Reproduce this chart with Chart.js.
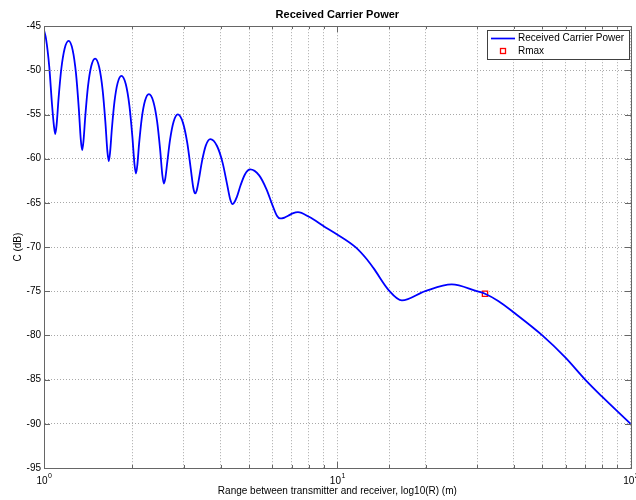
<!DOCTYPE html>
<html>
<head>
<meta charset="utf-8">
<script src="https://cdn.jsdelivr.net/npm/chart.js@4.4.0/dist/chart.umd.min.js"></script>
<style>
html,body{margin:0;padding:0;background:#fff;}
canvas{display:block;}
</style>
</head>
<body>
<canvas id="c" width="636" height="500"></canvas>
<script>
// ---- data read / ----
const rangeM = [
  1.0000, 1.0158, 1.0423, 1.0646, 1.0813, 1.0924, 1.1038, 1.1213, 1.1451, 1.1755,
  1.2131, 1.2524, 1.2862, 1.3138, 1.3349, 1.3492, 1.3630, 1.3839, 1.4123, 1.4486,
  1.4935, 1.5423, 1.5842, 1.6185, 1.6446, 1.6623, 1.6789, 1.7042, 1.7383, 1.7819,
  1.8357, 1.8998, 1.9548, 2.0000, 2.0345, 2.0578, 2.0788, 2.1107, 2.1541, 2.2095,
  2.2780, 2.3596, 2.4298, 2.4875, 2.5316, 2.5614, 2.5896, 2.6325, 2.6907, 2.7654,
  2.8577, 2.9768, 3.0798, 3.1648, 3.2301, 3.2743, 3.3137, 3.3738, 3.4555, 3.5602,
  3.6903, 3.8885, 4.0619, 4.2060, 4.3173, 4.3932, 4.4461, 4.5481, 4.6757, 4.8401,
  5.0454, 5.4132, 5.7401, 6.0158, 6.2312, 6.3791, 6.4695, 6.6075, 6.7962, 7.0395,
  7.3425, 8.0026, 9.1186, 9.8603, 11.530, 12.625, 13.303, 14.958, 16.597, 19.931,
  24.54, 29.84, 31.86, 35.35, 40.06, 49.97, 59.83, 70.20, 79.91, 100.0];
const powerDb = [
  -45.45, -46.40, -49.60, -53.80, -56.30, -57.20, -56.20, -53.14, -49.87, -47.55,
  -46.66, -47.71, -50.43, -54.27, -57.85, -59.03, -58.04, -55.04, -51.82, -49.54,
  -48.66, -49.64, -52.20, -55.80, -59.17, -60.27, -59.35, -56.55, -53.56, -51.44,
  -50.62, -51.55, -53.99, -57.42, -60.62, -61.67, -60.82, -58.21, -55.43, -53.45,
  -52.69, -53.54, -55.77, -58.91, -61.84, -62.80, -62.28, -60.36, -57.82, -55.82,
  -54.99, -55.94, -58.23, -61.14, -63.34, -63.93, -63.62, -62.31, -60.30, -58.52,
  -57.78, -58.56, -60.44, -62.84, -64.65, -65.14, -64.98, -64.28, -63.03, -61.78,
  -61.21, -61.88, -63.49, -65.30, -66.48, -66.76, -66.74, -66.66, -66.46, -66.19,
  -66.04, -66.57, -67.77, -68.45, -70.00, -71.40, -72.41, -74.86, -76.03, -74.98,
  -74.22, -74.98, -75.28, -76.10, -77.43, -79.99, -82.48, -85.05, -86.93, -90.02];
const rmaxRange = [31.86];
const rmaxPower = [-75.28];
const seriesNames = ['Received Carrier Power', 'Rmax'];
const yTickValues = [-95, -90, -85, -80, -75, -70, -65, -60, -55, -50, -45];
const xMajorTicks = [1, 10, 100];
const xTickBase = ['10', '10', '10'];
const xTickExp = ['0', '1', '2'];
const titleText = 'Received Carrier Power';
const xTitle = 'Range between transmitter and receiver, log10(R) (m)';
const yTitle = 'C (dB)';

const FONT = "'Liberation Sans', Arial, Helvetica, sans-serif";
Chart.defaults.font.family = FONT;
Chart.defaults.color = '#000';

const AXIS_COLOR = '#666666';
const BLUE = '#0000ff';
const RED = '#ff0000';

const framePlugin = {
  id: 'frame',
  afterDraw(chart) {
    const {ctx, chartArea: a, scales} = chart;
    const L = Math.round(a.left), R = Math.round(a.right), T = Math.round(a.top), B = Math.round(a.bottom);
    ctx.save();
    // inside tick marks
    ctx.strokeStyle = AXIS_COLOR;
    ctx.lineWidth = 1;
    ctx.beginPath();
    scales.y.ticks.forEach(t => {
      const y = Math.round(scales.y.getPixelForValue(t.value)) + 0.5;
      ctx.moveTo(L, y); ctx.lineTo(L + 6, y);
      ctx.moveTo(R, y); ctx.lineTo(R - 6, y);
    });
    scales.x.ticks.forEach(t => {
      const x = Math.round(scales.x.getPixelForValue(t.value)) + 0.5;
      const len = xMajorTicks.includes(t.value) ? 6 : 3;
      ctx.moveTo(x, B); ctx.lineTo(x, B - len);
      ctx.moveTo(x, T); ctx.lineTo(x, T + len);
    });
    ctx.stroke();
    // box
    ctx.strokeRect(L + 0.5, T + 0.5, R - L, B - T);

    // x tick labels with superscript exponent
    ctx.fillStyle = '#000';
    ctx.textBaseline = 'alphabetic';
    xMajorTicks.forEach((v, i) => {
      const x = scales.x.getPixelForValue(v);
      ctx.font = '10px ' + FONT;
      const wb = ctx.measureText(xTickBase[i]).width;
      ctx.font = '7px ' + FONT;
      const we = ctx.measureText(xTickExp[i]).width;
      const x0 = x - (wb + we) / 2;
      ctx.font = '10px ' + FONT;
      ctx.textAlign = 'left';
      ctx.fillText(xTickBase[i], x0, 483.5);
      ctx.font = '7px ' + FONT;
      ctx.fillText(xTickExp[i], x0 + wb + 0.5, 477.5);
    });

    // legend
    const lx = 487, ly = 30, lw = 142, lh = 29;
    ctx.fillStyle = '#fff';
    ctx.fillRect(lx, ly, lw, lh);
    ctx.strokeStyle = '#404040';
    ctx.lineWidth = 1;
    ctx.strokeRect(lx + 0.5, ly + 0.5, lw, lh);
    const ds = chart.data.datasets;
    ctx.strokeStyle = ds[0].borderColor;
    ctx.lineWidth = 1.7;
    ctx.beginPath();
    ctx.moveTo(491, 38.5); ctx.lineTo(515, 38.5);
    ctx.stroke();
    ctx.strokeStyle = ds[1].borderColor;
    ctx.lineWidth = 1.3;
    ctx.strokeRect(500.5, 48.5, 5, 5);
    ctx.fillStyle = '#000';
    ctx.font = '10px ' + FONT;
    ctx.textAlign = 'left';
    ctx.textBaseline = 'middle';
    ctx.fillText(ds[0].label, 518, 38.5);
    ctx.fillText(ds[1].label, 518, 51.5);
    ctx.restore();
  }
};

new Chart(document.getElementById('c'), {
  type: 'line',
  data: {
    datasets: [
      {
        label: seriesNames[0],
        data: rangeM.map((r, i) => ({x: r, y: powerDb[i]})),
        borderColor: BLUE,
        borderWidth: 1.8,
        pointRadius: 0,
        fill: false,
        cubicInterpolationMode: 'monotone'
      },
      {
        label: seriesNames[1],
        data: rmaxRange.map((r, i) => ({x: r, y: rmaxPower[i]})),
        showLine: false,
        pointStyle: 'rect',
        pointRadius: 3.7,
        pointBorderWidth: 1.3,
        borderColor: RED,
        backgroundColor: 'rgba(0,0,0,0)',
        pointBackgroundColor: 'rgba(0,0,0,0)',
        pointBorderColor: RED
      }
    ]
  },
  options: {
    responsive: false,
    animation: false,
    events: [],
    layout: {padding: {left: 0, right: 3, top: 0, bottom: 0}},
    plugins: {
      legend: {display: false},
      tooltip: {enabled: false},
      title: {
        display: true,
        text: titleText,
        fullSize: false,
        font: {size: 11, weight: 'bold', family: FONT},
        color: '#000',
        padding: {top: 8, bottom: 5}
      }
    },
    scales: {
      x: {
        type: 'logarithmic',
        position: 'bottom',
        min: 1,
        max: 100,
        ticks: {display: false},
        grid: {color: '#a8a8a8', lineWidth: 1, drawTicks: false},
        border: {display: true, color: AXIS_COLOR, dash: [1, 2]},
        title: {display: true, text: xTitle, font: {size: 10, family: FONT}, color: '#000', padding: {top: 0, bottom: 3}},
        afterFit(scale) { scale.height = 32; }
      },
      y: {
        type: 'linear',
        position: 'left',
        min: -95,
        max: -45,
        afterBuildTicks(scale) { scale.ticks = yTickValues.map(v => ({value: v})); },
        ticks: {font: {size: 10, family: FONT}, color: '#000', padding: 3},
        grid: {color: '#a8a8a8', lineWidth: 1, drawTicks: false},
        border: {display: true, color: AXIS_COLOR, dash: [1, 2]},
        title: {display: true, text: yTitle, font: {size: 10, family: FONT}, color: '#000', padding: {top: 12, bottom: 0}},
        afterFit(scale) { scale.width = 44; }
      }
    }
  },
  plugins: [framePlugin]
});
</script>
</body>
</html>
